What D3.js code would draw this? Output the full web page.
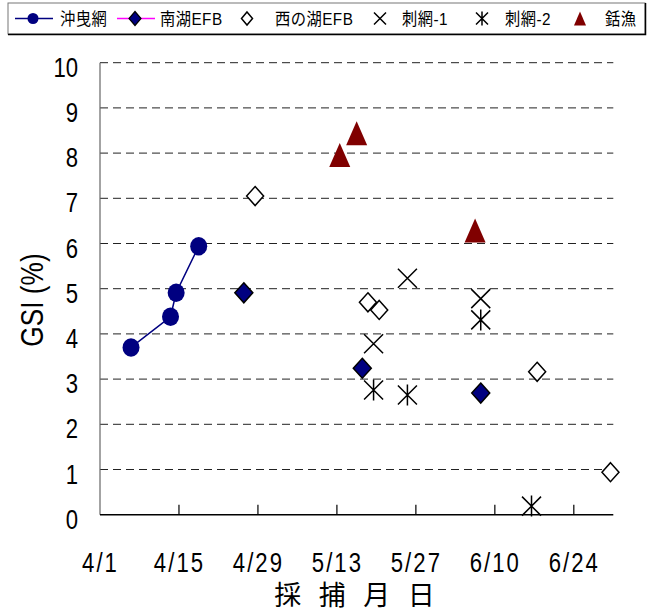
<!DOCTYPE html>
<html><head><meta charset="utf-8">
<script src="https://cdn.jsdelivr.net/npm/d3@7/dist/d3.min.js"></script>
<style>
html,body{margin:0;padding:0;background:#fff;}
svg{display:block;}
text{font-family:'Liberation Sans',Arial,'Noto Sans CJK JP',sans-serif;}
</style></head>
<body><svg id="c" width="653" height="615"></svg>
<script>
// ---- data ----
const seriesNames = ["沖曳網", "南湖EFB", "西の湖EFB", "刺網-1", "刺網-2", "銛漁"];
const xTickLabels = ["4/1", "4/15", "4/29", "5/13", "5/27", "6/10", "6/24"];
const yTicks = [0, 1, 2, 3, 4, 5, 6, 7, 8, 9, 10];
const xDomain = ["4/1", "7/1"];

const trawlDates = ["4/6", "4/13", "4/14", "4/18"];
const trawlGSI = [3.70, 4.38, 4.91, 5.94];

const minamiDates = ["4/26", "5/17", "6/7"];
const minamiGSI = [4.91, 3.24, 2.69];

const nishiDates = ["4/28", "5/18", "5/20", "6/17", "6/30"];
const nishiGSI = [7.05, 4.70, 4.53, 3.16, 0.94];

const gill1Dates = ["5/19", "5/25", "6/7"];
const gill1GSI = [3.78, 5.23, 4.78];

const gill2Dates = ["5/19", "5/25", "6/7", "6/16"];
const gill2GSI = [2.76, 2.65, 4.31, 0.19];

const harpoonDates = ["5/13", "5/16", "6/6"];
const harpoonGSI = [7.96, 8.44, 6.29];

// ---- helpers ----
const parse = s => { const [m, d] = s.split("/").map(Number); return new Date(2000, m - 1, d); };
const zip = (ds, vs) => ds.map((d, i) => ({ date: parse(d), v: vs[i] }));
const NARROW = 0.82;

const svg = d3.select("#c");
const L = 100, R = 613.3, T = 62.7, B = 514.7;
const x = d3.scaleTime().domain(xDomain.map(parse)).range([L, R]);
const y = d3.scaleLinear().domain([0, 10]).range([B, T]);
const halfDay = (x(parse("4/2")) - x(parse("4/1"))) / 2;
const px = d => x(d.date) + halfDay;
const py = d => y(d.v);

// gridlines
svg.append("g").selectAll("line").data(yTicks.filter(t => t > 0)).join("line")
  .attr("x1", L).attr("x2", R).attr("y1", d => y(d)).attr("y2", d => y(d))
  .attr("stroke", "#222").attr("stroke-width", 1).attr("stroke-dasharray", "8,5");

// y axis line
svg.append("line").attr("x1", L).attr("x2", L).attr("y1", T).attr("y2", B)
  .attr("stroke", "#666").attr("stroke-width", 1.2);

// x axis (ticks via d3 axis, labels narrowed)
const xTickDates = xTickLabels.map(parse);
const xAxis = d3.axisBottom(x).tickValues(xTickDates).tickSize(0).tickPadding(0)
  .tickFormat((d, i) => xTickLabels[i]);
const gx = svg.append("g").attr("transform", `translate(0,${B})`).call(xAxis);
gx.select(".domain").remove();
gx.selectAll("text").attr("font-size", 27).attr("fill", "#000").attr("letter-spacing", "2.5px")
  .attr("dy", 0).attr("y", null)
  .attr("transform", `translate(0,57) scale(${NARROW},1)`);
svg.append("line").attr("x1", L).attr("x2", R).attr("y1", B).attr("y2", B)
  .attr("stroke", "#000").attr("stroke-width", 1.5);
svg.append("g").selectAll("line").data(xTickDates.slice(1)).join("line")
  .attr("x1", d => x(d)).attr("x2", d => x(d)).attr("y1", B).attr("y2", B - 10)
  .attr("stroke", "#000").attr("stroke-width", 1.2);

// y axis labels
const yAxis = d3.axisLeft(y).tickValues(yTicks).tickSize(0).tickPadding(0);
const gy = svg.append("g").attr("transform", `translate(${L},0)`).call(yAxis);
gy.select(".domain").remove();
gy.selectAll("text").attr("font-size", 27).attr("fill", "#000").attr("dy", null).attr("x", null)
  .attr("transform", `translate(-22,13.5) scale(${NARROW},1)`);

// axis titles
svg.append("text").attr("transform", `translate(43,300) rotate(-90) scale(${NARROW},1)`)
  .attr("text-anchor", "middle").attr("font-size", 32).text("GSI (%)");
svg.append("text").attr("x", 357).attr("y", 605).attr("text-anchor", "middle")
  .attr("font-size", 27).attr("letter-spacing", "5px")
  .attr("font-family", "'Noto Sans CJK JP',sans-serif").text("採 捕 月 日");

// ---- marker painters ----
const NAVY = "#000080", MAROON = "#800000";
function diamond(g, cx, cy, hw, hh, fill, sw) {
  g.append("path").attr("d", `M${cx},${cy - hh}L${cx + hw},${cy}L${cx},${cy + hh}L${cx - hw},${cy}Z`)
    .attr("fill", fill).attr("stroke", "#000").attr("stroke-width", sw);
}
function cross(g, cx, cy, h, star) {
  let d = `M${cx - h},${cy - h}L${cx + h},${cy + h}M${cx - h},${cy + h}L${cx + h},${cy - h}`;
  if (star) d += `M${cx},${cy - h - 1}L${cx},${cy + h + 1}`;
  g.append("path").attr("d", d).attr("stroke", "#000").attr("stroke-width", 1.5).attr("fill", "none");
}
function tri(g, cx, cy, w, h) {
  g.append("path").attr("d", `M${cx},${cy - h / 2}L${cx + w / 2},${cy + h / 2}L${cx - w / 2},${cy + h / 2}Z`)
    .attr("fill", MAROON);
}

// ---- series ----
const trawl = zip(trawlDates, trawlGSI);
const marks = svg.append("g");
marks.append("path").datum(trawl).attr("d", d3.line().x(px).y(py))
  .attr("fill", "none").attr("stroke", NAVY).attr("stroke-width", 1.5);
marks.selectAll("ellipse.t").data(trawl).join("ellipse").attr("class", "t")
  .attr("cx", px).attr("cy", py).attr("rx", 8.5).attr("ry", 9.3).attr("fill", NAVY);

zip(minamiDates, minamiGSI).forEach(d => diamond(marks, px(d), py(d), 9, 10, NAVY, 1.5));
zip(nishiDates, nishiGSI).forEach(d => diamond(marks, px(d), py(d), 8.5, 9.5, "#fff", 1.5));
zip(gill1Dates, gill1GSI).forEach(d => cross(marks, px(d), py(d), 9.5, false));
zip(gill2Dates, gill2GSI).forEach(d => cross(marks, px(d), py(d), 9.5, true));
zip(harpoonDates, harpoonGSI).forEach(d => tri(marks, px(d), py(d), 21, 24));

// ---- legend ----
const lg = svg.append("g");
lg.append("rect").attr("x", 8).attr("y", 3).attr("width", 637).attr("height", 31)
  .attr("fill", "#fff").attr("stroke", "#777").attr("stroke-width", 1);
lg.append("path").attr("d", "M8,34.5H645.5V3").attr("stroke", "#000").attr("stroke-width", 1.5).attr("fill", "none");
const ly = 18.5;
const legendSym = [
  (g, cx) => { g.append("line").attr("x1", cx - 18).attr("x2", cx + 20).attr("y1", ly).attr("y2", ly).attr("stroke", NAVY).attr("stroke-width", 1.5);
               g.append("circle").attr("cx", cx).attr("cy", ly).attr("r", 5.5).attr("fill", NAVY); },
  (g, cx) => { g.append("line").attr("x1", cx - 18).attr("x2", cx + 20).attr("y1", ly).attr("y2", ly).attr("stroke", "#ff00ff").attr("stroke-width", 1.5);
               diamond(g, cx, ly, 6, 7, NAVY, 1.2); },
  (g, cx) => diamond(g, cx, ly, 5.5, 6.5, "#fff", 1.5),
  (g, cx) => cross(g, cx, ly, 6, false),
  (g, cx) => cross(g, cx, ly, 6, true),
  (g, cx) => tri(g, cx, ly, 12, 14)
];
const legendSymX = [33, 135, 247, 380, 482, 580];
const legendTextX = [60, 160, 275, 402, 505, 605];
seriesNames.forEach((n, i) => {
  legendSym[i](lg, legendSymX[i]);
  lg.append("text").attr("transform", `translate(${legendTextX[i]},${ly + 6.5}) scale(0.9,1)`)
    .attr("font-size", 17).attr("letter-spacing", "0.5px").text(n);
});
</script></body></html>
